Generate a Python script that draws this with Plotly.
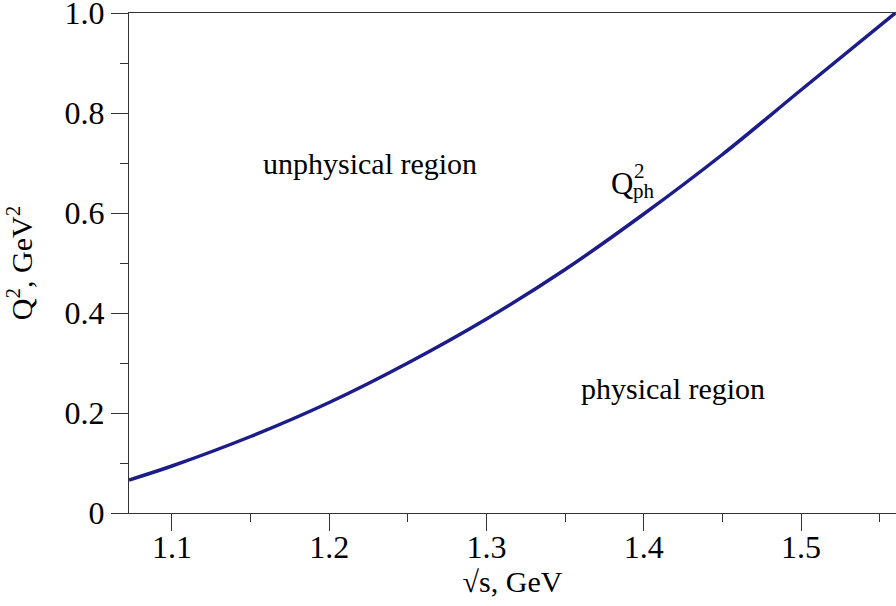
import plotly.graph_objects as go

# data
sqrt_s = [1.0727, 1.10, 1.15, 1.20, 1.25, 1.30, 1.35, 1.40, 1.45, 1.50, 1.56]
q2_ph = [0.066, 0.094, 0.153, 0.221, 0.300, 0.388, 0.487, 0.598, 0.717, 0.846, 1.0]

y_tickvals = [0, 0.2, 0.4, 0.6, 0.8, 1.0]
y_ticktext = ["0", "0.2", "0.4", "0.6", "0.8", "1.0"]
x_tickvals = [1.1, 1.2, 1.3, 1.4, 1.5]
x_ticktext = ["1.1", "1.2", "1.3", "1.4", "1.5"]

FONT = "Liberation Serif, Times New Roman, serif"
FS = 30
TFS = 32

X0, X1 = 1.0727, 1.5604


def px_to_x(px):
    return X0 + (px - 129) / (896 - 129) * (X1 - X0)


def px_to_y(py):
    return (513 - py) / 500


fig = go.Figure()
fig.add_trace(go.Scatter(x=sqrt_s, y=q2_ph, mode="lines",
                         line=dict(color="#1c1c8a", width=3.5, shape="spline", smoothing=1.0),
                         showlegend=False, hoverinfo="skip"))

axis_common = dict(ticks="outside", ticklen=17, tickcolor="#333", tickwidth=1.3,
                   showline=True, linecolor="#333", linewidth=1.3,
                   showgrid=False, zeroline=False, ticklabeloverflow="allow",
                   tickfont=dict(size=TFS))

fig.update_layout(
    width=896, height=606,
    margin=dict(l=129, r=0, t=13, b=93, autoexpand=False),
    paper_bgcolor="white", plot_bgcolor="white",
    font=dict(family=FONT, size=FS, color="black"),
    xaxis=dict(range=[X0, X1], tickvals=x_tickvals, ticktext=x_ticktext,
               minor=dict(ticks="outside", ticklen=8, dtick=0.05, tick0=1.0,
                          tickcolor="#333", tickwidth=1.3),
               mirror=True, ticklabelstandoff=-12,
               title=dict(text="√s, GeV", font=dict(size=FS), standoff=0),
               **axis_common),
    yaxis=dict(range=[0, 1.0], tickvals=y_tickvals, ticktext=y_ticktext,
               minor=dict(ticks="outside", ticklen=8, dtick=0.1, tick0=0,
                          tickcolor="#333", tickwidth=1.3),
               title=dict(text="Q<sup>2</sup>, GeV<sup>2</sup>", font=dict(size=FS), standoff=22),
               **axis_common),
)

fig.add_annotation(x=px_to_x(370), y=px_to_y(163), text="unphysical region",
                   showarrow=False, font=dict(size=FS))
fig.add_annotation(x=px_to_x(673), y=px_to_y(388), text="physical region",
                   showarrow=False, font=dict(size=FS))
# Q^2_ph label: main letter plus stacked superscript and subscript
fig.add_annotation(x=px_to_x(622), y=px_to_y(183), text="Q",
                   showarrow=False, font=dict(size=31))
fig.add_annotation(x=px_to_x(639), y=px_to_y(171), text="2",
                   showarrow=False, font=dict(size=21))
fig.add_annotation(x=px_to_x(644), y=px_to_y(191), text="ph",
                   showarrow=False, font=dict(size=21))

fig.write_html("out.html", config={"displayModeBar": False},
               post_script="document.body.style.margin='0px';document.body.style.overflow='hidden';")
